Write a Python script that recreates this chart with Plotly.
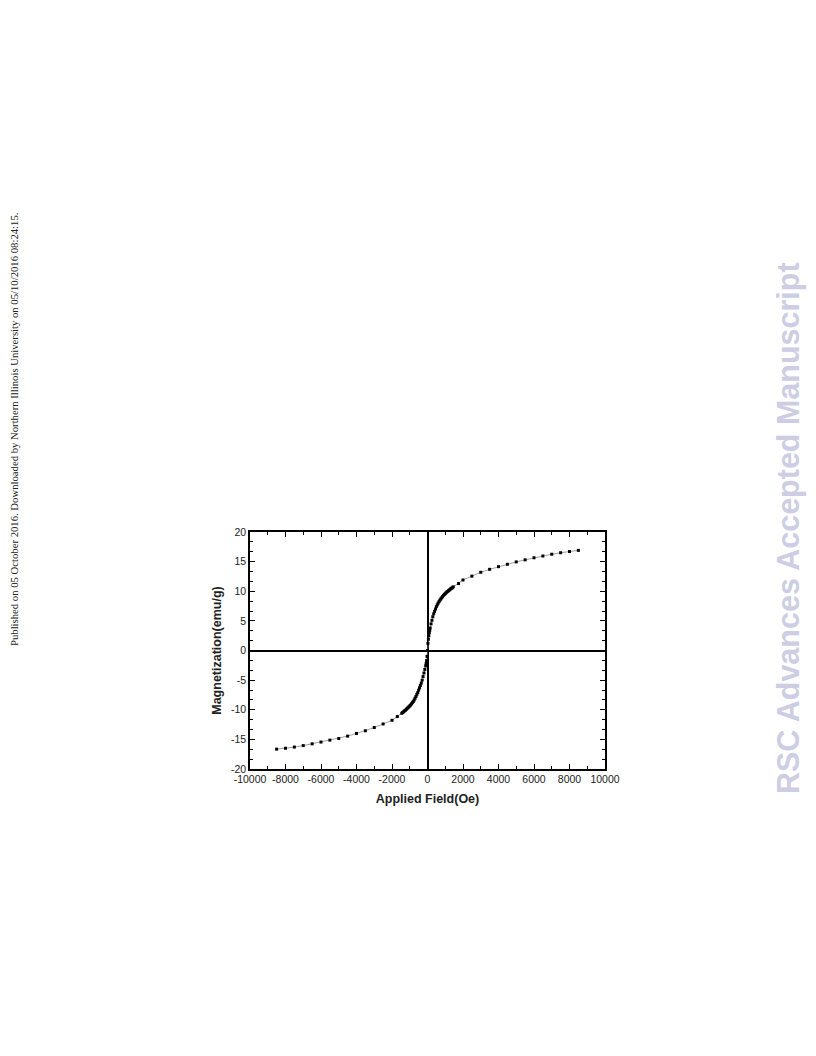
import plotly.graph_objects as go

# Applied field (Oe) and magnetization (emu/g)
field_neg_sparse = [-8500, -8000, -7500, -7000, -6500, -6000, -5500, -5000, -4500,
                    -4000, -3500, -3000, -2500, -2000, -1700]
mag_neg_sparse = [-16.65, -16.5, -16.3, -16.05, -15.75, -15.45, -15.13, -14.85, -14.45,
                  -14.0, -13.55, -13.0, -12.4, -11.78, -11.15]

field_neg_dense = [-1450, -1400, -1350, -1300, -1250, -1200, -1150, -1100, -1050, -1000,
                   -950, -900, -850, -800, -750, -700, -650, -600, -550, -500,
                   -450, -400, -350, -300, -250, -200, -150, -100, -75, -50, -25]
mag_neg_dense = [-10.6, -10.45, -10.35, -10.2, -10.1, -9.95, -9.8, -9.65, -9.5, -9.35,
                 -9.2, -9.0, -8.8, -8.6, -8.35, -8.05, -7.75, -7.4, -7.1, -6.7,
                 -6.3, -5.9, -5.5, -5.0, -4.4, -3.8, -3.2, -2.6, -2.2, -1.7, -1.0]

field_pos_dense = [0, 25, 50, 75, 100, 125, 150, 200, 250, 300, 350, 400, 450, 500,
                   550, 600, 650, 700, 750, 800, 850, 900, 950, 1000, 1050, 1100,
                   1150, 1200, 1250, 1300, 1350, 1400, 1450]
mag_pos_dense = [0.0, 1.2, 1.9, 2.5, 3.0, 3.4, 3.8, 4.5, 5.1, 5.7, 6.2, 6.6, 7.0, 7.4,
                 7.7, 8.0, 8.25, 8.5, 8.7, 8.9, 9.1, 9.3, 9.45, 9.6, 9.75, 9.9,
                 10.0, 10.15, 10.25, 10.4, 10.5, 10.6, 10.75]

field_pos_sparse = [1750, 2000, 2500, 3000, 3500, 4000, 4500, 5000, 5500, 6000,
                    6500, 7000, 7500, 8000, 8500]
mag_pos_sparse = [11.3, 11.9, 12.55, 13.2, 13.7, 14.15, 14.55, 14.95, 15.3, 15.65,
                  15.95, 16.25, 16.5, 16.7, 16.9]

field = field_neg_sparse + field_neg_dense + field_pos_dense + field_pos_sparse
mag = mag_neg_sparse + mag_neg_dense + mag_pos_dense + mag_pos_sparse

x_ticks = [-10000, -8000, -6000, -4000, -2000, 0, 2000, 4000, 6000, 8000, 10000]
y_ticks = [-20, -15, -10, -5, 0, 5, 10, 15, 20]

fig = go.Figure()
fig.add_trace(go.Scatter(
    x=field, y=mag, mode="lines+markers",
    line=dict(color="#777777", width=0.7),
    marker=dict(symbol="square", size=3, color="black"),
    showlegend=False,
))

axis_common = dict(
    showline=True, linecolor="black", linewidth=1.5, mirror="ticks",
    ticks="inside", tickcolor="black", tickwidth=1.2, ticklen=5,
    showgrid=False, zeroline=True, zerolinecolor="black", zerolinewidth=1.5,
    tickfont=dict(family="Liberation Sans, Arial", size=10.5, color="#222222"),
)

fig.update_xaxes(
    range=[-10000, 10000], tickvals=x_ticks, ticktext=[str(v) for v in x_ticks],
    minor=dict(dtick=1000, ticks="inside", ticklen=3, tickcolor="black", tickwidth=1.2),
    title=dict(text="<b>Applied Field(Oe)</b>", standoff=10,
               font=dict(family="Liberation Sans, Arial", size=12.5, color="#222222")),
    **axis_common,
)
fig.update_yaxes(
    range=[-20, 20], tickvals=y_ticks, ticktext=[str(v) for v in y_ticks],
    minor=dict(dtick=5 / 3, ticks="inside", ticklen=3, tickcolor="black", tickwidth=1.2),
    title=dict(text="<b>Magnetization(emu/g)</b>", standoff=7,
               font=dict(family="Liberation Sans, Arial", size=12.5, color="#222222")),
    **axis_common,
)

fig.update_layout(
    width=816, height=1056,
    margin=dict(l=242, r=219, t=524, b=295),
    paper_bgcolor="white", plot_bgcolor="white",
    annotations=[
        dict(text="Published on 05 October 2016. Downloaded by Northern Illinois University on 05/10/2016 08:24:15.",
             xref="paper", yref="paper", x=(14 - 250) / 355, y=(769 - 430) / 237,
             xanchor="center", yanchor="middle", textangle=-90, showarrow=False,
             font=dict(family="Liberation Serif, Times New Roman", size=10.7, color="#222222")),
        dict(text="<b>RSC Advances Accepted Manuscript</b>",
             xref="paper", yref="paper", x=(788 - 250) / 355, y=(769 - 528) / 237,
             xanchor="center", yanchor="middle", textangle=-90, showarrow=False,
             font=dict(family="Liberation Sans, Arial", size=30.5, color="#cdcde3")),
    ],
)

fig.write_html("out.html")
